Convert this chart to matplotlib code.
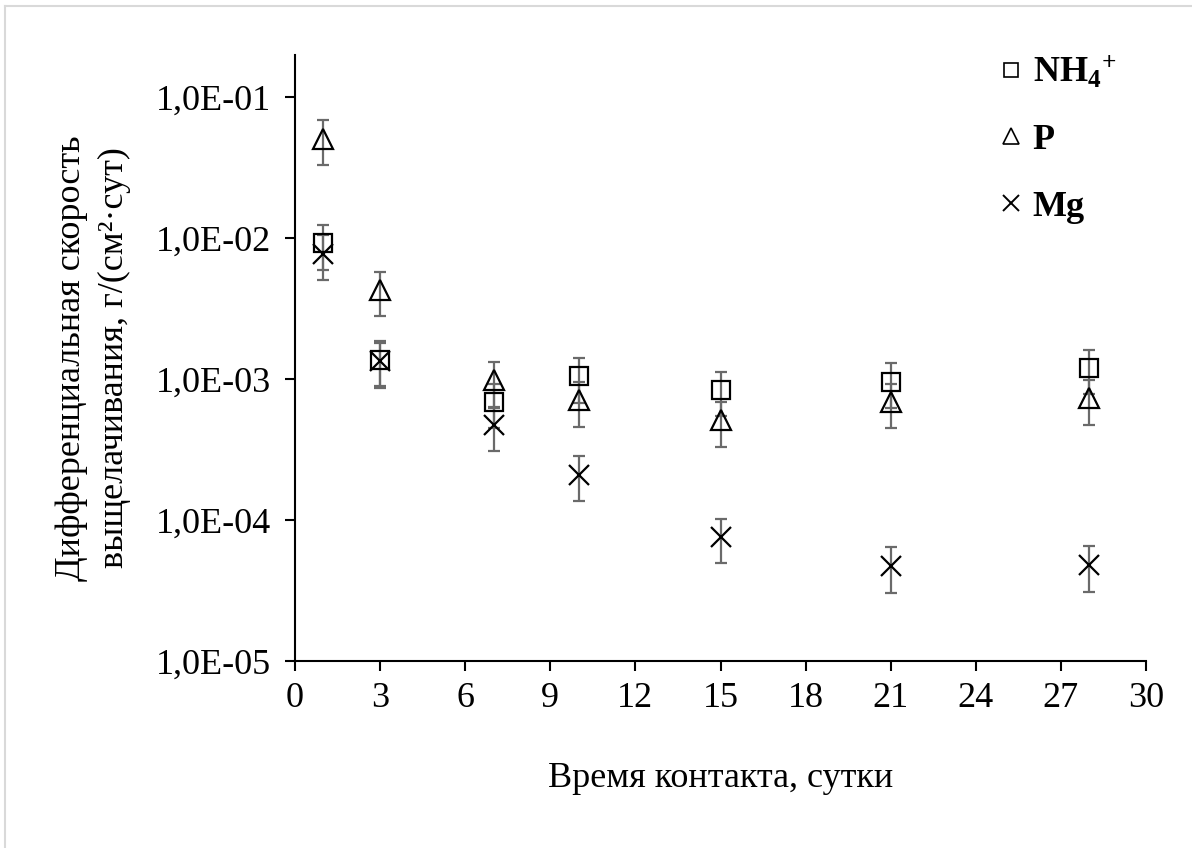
import matplotlib
matplotlib.use("Agg")
import matplotlib.pyplot as plt
from matplotlib.lines import Line2D
from matplotlib.ticker import FixedLocator, FuncFormatter, NullLocator

plt.rcParams['font.family'] = ['Liberation Serif', 'DejaVu Serif']
plt.rcParams['mathtext.fontset'] = 'custom'
plt.rcParams['mathtext.rm'] = 'Liberation Serif'
plt.rcParams['mathtext.bf'] = 'Liberation Serif:bold'
plt.rcParams['mathtext.it'] = 'Liberation Serif:italic'

# Contact time, days
days = [1, 3, 7, 10, 15, 21, 28]

# Differential leaching rate, g/(cm2*day), with absolute errors
nh4 = [0.0092, 0.00138, 0.00069, 0.00105, 0.00084, 0.00096, 0.00120]
nh4_err = [0.0032, 0.00048, 0.00024, 0.00037, 0.00029, 0.00034, 0.00042]

p = [0.051, 0.0043, 0.00098, 0.00071, 0.00051, 0.00069, 0.00073]
p_err = [0.018, 0.0015, 0.00034, 0.00025, 0.00018, 0.00024, 0.00026]

mg = [0.0078, 0.00134, 0.00047, 0.00021, 0.0000754, 0.0000474, 0.0000480]
mg_err = [0.0027, 0.00047, 0.00016, 0.000073, 0.000026, 0.000017, 0.000017]

x_ticks = [0, 3, 6, 9, 12, 15, 18, 21, 24, 27, 30]
y_ticks = [1e-5, 1e-4, 1e-3, 1e-2, 1e-1]
y_tick_labels = ["1,0E-05", "1,0E-04", "1,0E-03", "1,0E-02", "1,0E-01"]

fig = plt.figure(figsize=(11.92, 8.48), dpi=100)
ax = fig.add_axes([0.2475, 0.2205, 0.9614 - 0.2475, 0.9351 - 0.2205])

err_kw = dict(ecolor='#6a6a6a', elinewidth=1.6, capsize=4.5, capthick=1.6,
              linestyle='none', mfc='none', mec='black', mew=1.6, zorder=3)

ax.errorbar(days, nh4, yerr=nh4_err, marker='s', ms=13, **err_kw)
ax.errorbar(days, p, yerr=p_err, marker='^', ms=14, **err_kw)
ax.errorbar(days, mg, yerr=mg_err, marker='x', ms=14, **err_kw)

ax.set_yscale('log')
ax.set_xlim(0, 30)
ax.set_ylim(1e-5, 2e-1)

ax.xaxis.set_major_locator(FixedLocator(x_ticks))
ax.yaxis.set_major_locator(FixedLocator(y_ticks))
ax.yaxis.set_minor_locator(NullLocator())
ax.yaxis.set_major_formatter(FuncFormatter(
    lambda v, pos: y_tick_labels[y_ticks.index(min(y_ticks, key=lambda t: abs(t - v)))]))

for side in ('top', 'right'):
    ax.spines[side].set_visible(False)
for side in ('left', 'bottom'):
    ax.spines[side].set_linewidth(1.5)

ax.tick_params(axis='both', which='major', direction='out', length=7,
               width=1.5, labelsize=26, color='black')
ax.tick_params(axis='y', pad=10)
ax.tick_params(axis='x', pad=8)

ax.set_xlabel("Время контакта, сутки", fontsize=26, labelpad=34)
ax.set_ylabel("Дифференциальная скорость\nвыщелачивания, г/(см²·сут)",
              fontsize=26, labelpad=18, linespacing=1.4)

handles = [
    Line2D([], [], marker='s', ms=10, mfc='none', mec='black', mew=1.2, linestyle='none'),
    Line2D([], [], marker='^', ms=11, mfc='none', mec='black', mew=1.2, linestyle='none'),
    Line2D([], [], marker='x', ms=12, mfc='none', mec='black', mew=1.4, linestyle='none'),
]
labels = [r'$\mathbf{NH_4}^{\mathbf{+}}$', 'P', 'Mg']
leg = ax.legend(handles, labels, loc='upper right', bbox_to_anchor=(1.003, 1.055),
                frameon=False, handlelength=0.6, handletextpad=0.3,
                labelspacing=0.92, prop={'size': 26, 'weight': 'bold'})

# thin outer frame lines
fig.add_artist(Line2D([5 / 1192, 1], [1 - 6 / 848, 1 - 6 / 848],
                      transform=fig.transFigure, color='#d9d9d9', lw=1.5))
fig.add_artist(Line2D([5 / 1192, 5 / 1192], [0, 1 - 6 / 848],
                      transform=fig.transFigure, color='#d9d9d9', lw=1.5))

fig.savefig("out.png", dpi=100, facecolor='white')
